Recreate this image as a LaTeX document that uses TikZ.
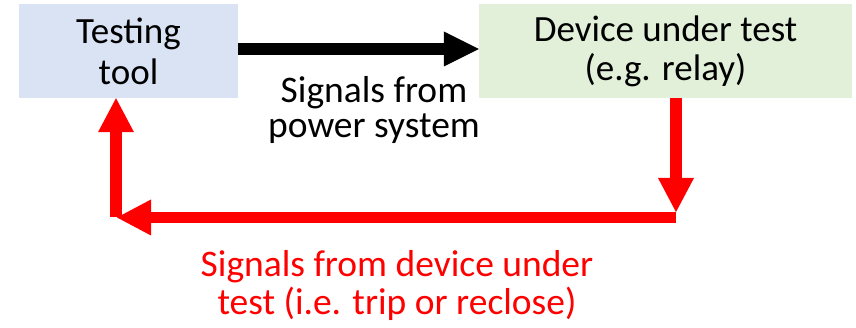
\documentclass[tikz,border=0pt]{standalone}
\usepackage{fontspec}
\setmainfont{Carlito}
\usetikzlibrary{arrows.meta}
\definecolor{toolblue}{HTML}{DAE3F3}
\definecolor{dutgreen}{HTML}{E2F0D9}
\definecolor{flowred}{HTML}{FF0000}
\begin{document}
\begin{tikzpicture}[x=1pt,y=-1pt,
  box/.style={inner sep=0pt, align=center, font=\fontsize{37}{41}\selectfont},
  lbl/.style={inner sep=0pt, align=center, anchor=base},
  blackflow/.style={line width=12pt, -{Triangle[length=35pt,width=35pt,line width=0pt]}},
  redflow/.style={color=flowred, line width=11.5pt, -{Triangle[length=34pt,width=36pt,line width=0pt]}}]
\useasboundingbox (0,0) rectangle (856,328);

% the two blocks
\node[box, fill=toolblue, minimum width=219pt, minimum height=94pt] (tool) at (128.5,51) {Testing\\tool};
\node[box, fill=dutgreen, minimum width=373pt, minimum height=94pt, font=\fontsize{37}{39}\selectfont] (dut) at (665.5,51) {Device under test\\(e.g. relay)};

% forward path: injected signals
\draw[blackflow] ([yshift=2pt]tool.east) -- ([yshift=2pt]dut.west);
\node[lbl, font=\fontsize{37.5}{35}\selectfont] (sigpower) at (374,138) {Signals from\\power system};

% feedback path: device response
\coordinate (down) at (676,212);
\coordinate (turnright) at (676,217.5);
\coordinate (turnleft) at (117,217.5);
\coordinate (up) at (116,217);
\draw[redflow] (dut.south -| down) -- (down);
\draw[redflow] (turnright) -- (turnleft);
\draw[redflow] (up) -- (tool.south -| up);
\node[lbl, text=flowred, font=\fontsize{37.5}{38}\selectfont] (sigdut) at (397,315) {Signals from device under\\test (i.e. trip or reclose)};
\end{tikzpicture}
\end{document}
